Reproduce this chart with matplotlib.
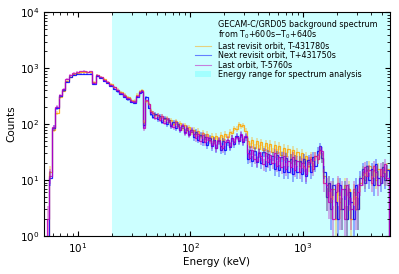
import numpy as np
import matplotlib
matplotlib.use("Agg")
import matplotlib.pyplot as plt
from matplotlib.lines import Line2D
from matplotlib.patches import Patch

# ---------------- data ----------------
energy_edges = [
    5.28, 5.495, 5.888, 6.310, 6.761, 7.244, 7.762, 8.318, 8.913, 9.550,
    10.23, 10.96, 11.75, 12.59, 13.49, 14.45, 15.49, 16.60, 17.78, 19.05,
    20.42, 21.88, 23.44, 25.12, 26.92, 28.84, 30.90,
    33.11, 34.67, 36.31, 38.02, 39.81, 41.69, 43.65, 45.71, 47.86, 50.12,
    52.48, 54.95, 57.54, 60.26, 63.10, 66.07, 69.18, 72.44, 75.86, 79.43,
    83.18, 87.10, 91.20, 95.50, 100.0, 104.7, 109.6, 114.8, 120.2, 125.9,
    131.8, 138.0, 144.5, 151.4, 158.5, 166.0, 173.8, 182.0, 190.5, 199.5,
    208.9, 218.8, 229.1, 239.9, 251.2, 263.0, 275.4, 288.4, 302.0, 316.2,
    331.1, 346.7, 363.1, 380.2, 398.1, 416.9, 436.5, 457.1, 478.6, 501.2,
    524.8, 549.5, 575.4, 602.6, 631.0, 660.7, 691.8, 724.4, 758.6, 794.3,
    831.8, 871.0, 912.0, 955.0, 1000, 1047, 1096, 1148, 1202, 1259,
    1318, 1380, 1445, 1514, 1585, 1660, 1738, 1820, 1905, 1995,
    2089, 2188, 2291, 2399, 2512, 2630, 2754, 2884, 3020, 3162,
    3311, 3467, 3631, 3802, 3981, 4169, 4365, 4571, 4786, 5012,
    5248, 5495, 5754,
]

counts_last_revisit = [
    0, 14, 80, 160, 300, 395, 590, 700, 780, 830,
    850, 860, 845, 855, 570, 760, 700, 640, 575, 515,
    465, 415, 372, 335, 300, 272, 262,
    338, 392, 404, 108, 255, 232, 175, 160, 143, 148,
    130, 138, 122, 128, 111, 119, 101, 112, 95, 103,
    86, 97, 80, 88, 73, 80, 67, 75, 61, 70,
    58, 66, 53, 62, 51, 61, 52, 64, 53, 66,
    59, 72, 68, 85, 82, 99, 92, 96, 75, 50,
    39, 52, 38, 50, 36, 48, 35, 46, 33, 45,
    32, 43, 30, 41, 28, 38, 27, 36, 24, 34,
    23, 32, 21, 30, 20, 27, 18, 26, 18, 27,
    24, 34, 25, 12, 5, 9, 4, 7, 2, 8,
    4, 3, 8, 2, 7, 2, 6, 5, 3, 9,
    14, 10, 15, 18, 11, 15, 10, 16, 12, 17,
    11, 16,
]

counts_next_revisit = [
    0, 11, 86, 195, 315, 400, 575, 690, 750, 790,
    800, 795, 790, 800, 520, 720, 660, 600, 540, 480,
    430, 385, 345, 310, 278, 250, 240,
    305, 360, 382, 95, 302, 198, 152, 136, 151, 121,
    138, 110, 129, 99, 117, 92, 110, 84, 100, 79,
    91, 72, 85, 66, 77, 58, 72, 53, 64, 47,
    59, 42, 56, 40, 52, 37, 49, 35, 50, 34,
    47, 39, 56, 44, 62, 49, 64, 48, 58, 24,
    34, 22, 33, 21, 30, 20, 32, 18, 29, 19,
    27, 16, 28, 15, 26, 14, 25, 14, 24, 13,
    23, 14, 22, 13, 24, 12, 23, 14, 26, 18,
    33, 40, 25, 14, 5, 9, 3, 8, 4, 2,
    8, 3, 7, 2, 6, 4, 2, 8, 3, 11,
    16, 9, 18, 10, 16, 8, 19, 11, 9, 17,
    10, 15,
]

counts_last_orbit = [
    2, 12, 88, 205, 330, 420, 640, 760, 820, 860,
    880, 885, 870, 880, 545, 750, 690, 625, 565, 505,
    455, 405, 362, 325, 290, 263, 252,
    318, 378, 396, 84, 268, 225, 163, 160, 128, 146,
    118, 137, 105, 124, 116, 96, 88, 108, 92, 80,
    97, 70, 86, 64, 79, 67, 56, 66, 50, 63,
    47, 58, 51, 43, 49, 38, 52, 40, 37, 47,
    53, 41, 57, 47, 60, 52, 66, 50, 61, 30,
    25, 34, 24, 22, 32, 27, 19, 31, 21, 28,
    20, 30, 18, 26, 17, 27, 16, 22, 17, 26,
    15, 22, 14, 20, 18, 13, 21, 24, 16, 27,
    24, 35, 33, 9, 8, 4, 7, 2, 6, 9,
    3, 7, 2, 8, 5, 3, 7, 3, 6, 8,
    11, 17, 12, 15, 9, 18, 14, 8, 16, 12,
    19, 11,
]

series_labels = [
    "Last revisit orbit, T-431780s",
    "Next revisit orbit, T+431750s",
    "Last orbit, T-5760s",
]
analysis_range = [20, 6000]
analysis_label = "Energy range for spectrum analysis"
legend_header = [
    "GECAM-C/GRD05 background spectrum",
    "from T$_0$+600s$-$T$_0$+640s",
]

# ---------------- plot ----------------
series_colors = ["orange", "blue", "m"]

fig = plt.figure(figsize=(3.99, 2.74), dpi=100)
ax = fig.add_axes([0.110, 0.139, 0.867, 0.816])
ax.set_xscale("log")
ax.set_yscale("log")

ax.axvspan(analysis_range[0], analysis_range[1], facecolor="cyan",
           alpha=0.2, lw=0, zorder=0)

edges = np.array(energy_edges, dtype=float)
centers = np.sqrt(edges[:-1] * edges[1:])
all_counts = [counts_last_revisit, counts_next_revisit, counts_last_orbit]
for vals, col in zip(all_counts, series_colors):
    v = np.array(vals, dtype=float)
    ax.stairs(v, edges, baseline=1e-3, color=col, alpha=0.85, lw=0.9)
    ok = v > 0
    ax.errorbar(centers[ok], v[ok], yerr=np.sqrt(v[ok]), fmt="none",
                ecolor=col, alpha=0.35, elinewidth=1.3)

ax.set_xlim(5.0, 5900)
ax.set_ylim(1, 1e4)
ax.set_xlabel("Energy (keV)", fontsize=7.5, labelpad=2)
ax.set_ylabel("Counts", fontsize=7.5, labelpad=2)
ax.tick_params(which="both", direction="in", top=True, right=True,
               labelsize=7.5)
ax.tick_params(which="major", length=3.5, width=0.8)
ax.tick_params(which="minor", length=2, width=0.6)
for s in ax.spines.values():
    s.set_linewidth(0.8)

blank = Line2D([], [], linestyle="none")
handles = [blank, blank]
handles += [Line2D([], [], color=c, alpha=0.5, lw=0.8) for c in series_colors]
handles.append(Patch(facecolor="cyan", alpha=0.2, lw=0))
labels = legend_header + series_labels + [analysis_label]
leg = ax.legend(handles, labels, loc="upper right",
                bbox_to_anchor=(0.985, 1.0),
                frameon=False, fontsize=5.8, labelspacing=0.05,
                handlelength=2.0, handletextpad=0.8)

fig.savefig("out.png", dpi=100)
